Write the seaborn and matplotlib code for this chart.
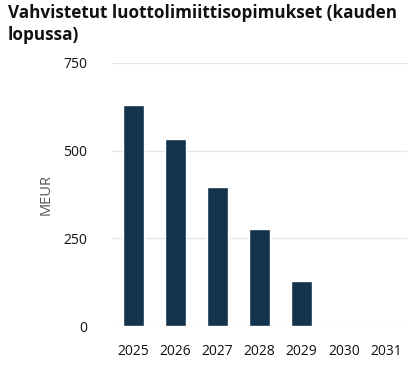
import matplotlib
matplotlib.use("Agg")
import matplotlib.pyplot as plt
import seaborn as sns
import pandas as pd

years = ["2025", "2026", "2027", "2028", "2029", "2030", "2031"]
limits = [630, 533, 396, 276, 128, 0, 0]
y_ticks = [0, 250, 500, 750]

sns.set_theme(style="white")
plt.rcParams["font.family"] = ["Open Sans", "DejaVu Sans"]

df = pd.DataFrame({"year": years, "meur": limits})

fig = plt.figure(figsize=(4.19, 3.69), dpi=100)
ax = fig.add_axes([112 / 419, 43 / 369, 295 / 419, 263 / 369])

sns.barplot(data=df, x="year", y="meur", color="#12334c", width=0.5,
            saturation=1, ax=ax, zorder=3)

ax.set_ylim(0, 750)
ax.set_yticks(y_ticks)
ax.set_yticklabels([str(t) for t in y_ticks])
ax.yaxis.grid(True, color="#e6e6e6", linewidth=1, zorder=0)
ax.set_axisbelow(True)
for s in ax.spines.values():
    s.set_visible(False)
ax.tick_params(axis="both", length=0, labelsize=10, colors="#111111")
ax.tick_params(axis="y", pad=18)
ax.tick_params(axis="x", pad=13)
ax.set_xlabel("")
ax.set_ylabel("MEUR", fontsize=10.5, color="#555555", labelpad=7)

fig.text(8 / 419, 1 - 4 / 369, "Vahvistetut luottolimiittisopimukset (kauden\nlopussa)",
         fontsize=12.3, fontweight="bold", color="#111111", va="top", ha="left",
         linespacing=1.3)

fig.savefig("out.png", dpi=100)
